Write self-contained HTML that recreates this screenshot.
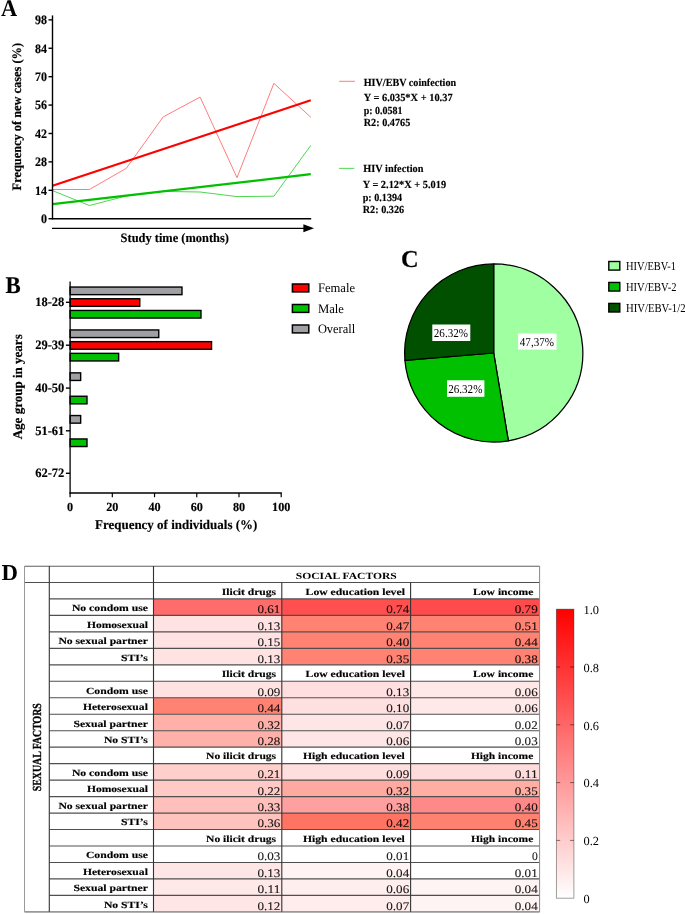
<!DOCTYPE html>
<html lang="en">
<head>
<meta charset="utf-8">
<title>Figure: HIV/EBV coinfection</title>
<style>
  html, body { margin: 0; padding: 0; background: #ffffff; }
  body { width: 685px; height: 914px; overflow: hidden; }
  svg { display: block; font-family: 'Liberation Serif', 'DejaVu Serif', serif; }
  svg text { white-space: pre; text-rendering: geometricPrecision; }
</style>
</head>
<body>
<svg width="685" height="914" viewBox="0 0 685 914">
<defs>
  <linearGradient id="cbar" x1="0" y1="0" x2="0" y2="1">
    <stop offset="0" stop-color="#ff0000"/>
    <stop offset="1" stop-color="#ffffff"/>
  </linearGradient>
  <filter id="soft" x="-2%" y="-2%" width="104%" height="104%"><feGaussianBlur stdDeviation="0.55"/></filter>
</defs>
<rect width="685" height="914" fill="#ffffff"/>
<g id="panelA">
<text x="1.0" y="16.1" font-size="24" font-weight="bold" text-anchor="start" fill="#000" textLength="16.2" lengthAdjust="spacingAndGlyphs">A</text>
<polyline fill="none" stroke="#ff5a5a" stroke-width="0.8" points="52.5,189.5 89.4,189.5 126.3,168.3 163.2,116.9 200.1,97.1 237.0,177.7 273.9,83.3 310.8,117.3"/>
<polyline fill="none" stroke="#22cc22" stroke-width="0.8" points="52.5,190.6 89.4,205.5 126.3,196.0 163.2,191.4 200.1,192.0 237.0,196.6 273.9,196.2 310.8,145.4"/>
<line x1="52.5" y1="185.7" x2="310.8" y2="100.3" stroke="#ff0000" stroke-width="2.2"/>
<line x1="52.5" y1="204.1" x2="310.8" y2="174.2" stroke="#00c000" stroke-width="2.2"/>
<line x1="52.5" y1="15.4" x2="52.5" y2="219.39999999999998" stroke="#000" stroke-width="1.4"/>
<line x1="51.8" y1="218.7" x2="311.2" y2="218.7" stroke="#000" stroke-width="1.4"/>
<line x1="48.5" y1="218.70" x2="52.5" y2="218.70" stroke="#000" stroke-width="1.4"/>
<text x="47" y="223.1" font-size="12.96" font-weight="bold" text-anchor="end" fill="#000" textLength="6.0" lengthAdjust="spacingAndGlyphs" stroke="#000" stroke-width="0.15">0</text>
<line x1="48.5" y1="190.29" x2="52.5" y2="190.29" stroke="#000" stroke-width="1.4"/>
<text x="47" y="194.69" font-size="12.96" font-weight="bold" text-anchor="end" fill="#000" textLength="12.0" lengthAdjust="spacingAndGlyphs" stroke="#000" stroke-width="0.15">14</text>
<line x1="48.5" y1="161.89" x2="52.5" y2="161.89" stroke="#000" stroke-width="1.4"/>
<text x="47" y="166.29" font-size="12.96" font-weight="bold" text-anchor="end" fill="#000" textLength="12.0" lengthAdjust="spacingAndGlyphs" stroke="#000" stroke-width="0.15">28</text>
<line x1="48.5" y1="133.48" x2="52.5" y2="133.48" stroke="#000" stroke-width="1.4"/>
<text x="47" y="137.88" font-size="12.96" font-weight="bold" text-anchor="end" fill="#000" textLength="12.0" lengthAdjust="spacingAndGlyphs" stroke="#000" stroke-width="0.15">42</text>
<line x1="48.5" y1="105.08" x2="52.5" y2="105.08" stroke="#000" stroke-width="1.4"/>
<text x="47" y="109.48" font-size="12.96" font-weight="bold" text-anchor="end" fill="#000" textLength="12.0" lengthAdjust="spacingAndGlyphs" stroke="#000" stroke-width="0.15">56</text>
<line x1="48.5" y1="76.67" x2="52.5" y2="76.67" stroke="#000" stroke-width="1.4"/>
<text x="47" y="81.07" font-size="12.96" font-weight="bold" text-anchor="end" fill="#000" textLength="12.0" lengthAdjust="spacingAndGlyphs" stroke="#000" stroke-width="0.15">70</text>
<line x1="48.5" y1="48.26" x2="52.5" y2="48.26" stroke="#000" stroke-width="1.4"/>
<text x="47" y="52.66" font-size="12.96" font-weight="bold" text-anchor="end" fill="#000" textLength="12.0" lengthAdjust="spacingAndGlyphs" stroke="#000" stroke-width="0.15">84</text>
<line x1="48.5" y1="19.86" x2="52.5" y2="19.86" stroke="#000" stroke-width="1.4"/>
<text x="47" y="24.26" font-size="12.96" font-weight="bold" text-anchor="end" fill="#000" textLength="12.0" lengthAdjust="spacingAndGlyphs" stroke="#000" stroke-width="0.15">98</text>
<line x1="52" y1="228.35" x2="305" y2="228.35" stroke="#000" stroke-width="1.4"/>
<polygon points="303.4,224.2 314,228.2 303.4,232.2" fill="#000"/>
<text x="120.6" y="242" font-size="12.96" font-weight="bold" text-anchor="start" fill="#000" textLength="108.4" lengthAdjust="spacingAndGlyphs" stroke="#000" stroke-width="0.15">Study time (months)</text>
<text transform="translate(21.0 190.4) rotate(-90)" font-size="12.96" font-weight="bold" text-anchor="start" stroke="#000" stroke-width="0.2" textLength="147.5" lengthAdjust="spacingAndGlyphs">Frequency of new cases (%)</text>
<line x1="339.2" y1="81.3" x2="354.9" y2="81.3" stroke="#ff5a5a" stroke-width="0.8"/>
<text x="363.7" y="85.5" font-size="10.8" font-weight="bold" text-anchor="start" fill="#000" textLength="92.4" lengthAdjust="spacingAndGlyphs" stroke="#000" stroke-width="0.15">HIV/EBV coinfection</text>
<text x="363.7" y="101.0" font-size="10.8" font-weight="bold" text-anchor="start" fill="#000" textLength="88.9" lengthAdjust="spacingAndGlyphs" stroke="#000" stroke-width="0.15">Y = 6.035*X + 10.37</text>
<text x="363.7" y="113.7" font-size="10.8" font-weight="bold" text-anchor="start" fill="#000" textLength="38.9" lengthAdjust="spacingAndGlyphs" stroke="#000" stroke-width="0.15">p: 0.0581</text>
<text x="363.7" y="126.0" font-size="10.8" font-weight="bold" text-anchor="start" fill="#000" textLength="46.6" lengthAdjust="spacingAndGlyphs" stroke="#000" stroke-width="0.15">R2: 0.4765</text>
<line x1="339" y1="168.35" x2="354.3" y2="168.35" stroke="#22cc22" stroke-width="0.8"/>
<text x="363.3" y="172.2" font-size="10.8" font-weight="bold" text-anchor="start" fill="#000" textLength="60.1" lengthAdjust="spacingAndGlyphs" stroke="#000" stroke-width="0.15">HIV infection</text>
<text x="362.7" y="187.7" font-size="10.8" font-weight="bold" text-anchor="start" fill="#000" textLength="83.4" lengthAdjust="spacingAndGlyphs" stroke="#000" stroke-width="0.15">Y = 2.12*X + 5.019</text>
<text x="362.7" y="200.7" font-size="10.8" font-weight="bold" text-anchor="start" fill="#000" textLength="39.5" lengthAdjust="spacingAndGlyphs" stroke="#000" stroke-width="0.15">p: 0.1394</text>
<text x="362.7" y="213.0" font-size="10.8" font-weight="bold" text-anchor="start" fill="#000" textLength="41.5" lengthAdjust="spacingAndGlyphs" stroke="#000" stroke-width="0.15">R2: 0.326</text>
</g>
<g id="panelB">
<text x="5.5" y="293.3" font-size="24" font-weight="bold" text-anchor="start" fill="#000" textLength="15.2" lengthAdjust="spacingAndGlyphs" stroke="#000" stroke-width="0.15">B</text>
<rect x="70.1" y="287.05" width="111.88" height="7.6" fill="#a0a0a4" stroke="#000" stroke-width="1.4"/>
<rect x="70.1" y="298.75" width="69.66" height="7.6" fill="#ff0000" stroke="#000" stroke-width="1.4"/>
<rect x="70.1" y="310.45" width="130.88" height="7.6" fill="#00c000" stroke="#000" stroke-width="1.4"/>
<line x1="65.9" y1="302.3" x2="70.1" y2="302.3" stroke="#000" stroke-width="1.4"/>
<text x="64.4" y="306.3" font-size="12.96" font-weight="bold" text-anchor="end" fill="#000" textLength="29.2" lengthAdjust="spacingAndGlyphs" stroke="#000" stroke-width="0.15">18-28</text>
<rect x="70.1" y="329.95" width="88.66" height="7.6" fill="#a0a0a4" stroke="#000" stroke-width="1.4"/>
<rect x="70.1" y="341.65" width="141.44" height="7.6" fill="#ff0000" stroke="#000" stroke-width="1.4"/>
<rect x="70.1" y="353.35" width="48.55" height="7.6" fill="#00c000" stroke="#000" stroke-width="1.4"/>
<line x1="65.9" y1="345.2" x2="70.1" y2="345.2" stroke="#000" stroke-width="1.4"/>
<text x="64.4" y="349.2" font-size="12.96" font-weight="bold" text-anchor="end" fill="#000" textLength="29.2" lengthAdjust="spacingAndGlyphs" stroke="#000" stroke-width="0.15">29-39</text>
<rect x="70.1" y="372.85" width="10.56" height="7.6" fill="#a0a0a4" stroke="#000" stroke-width="1.4"/>
<rect x="70.1" y="396.25" width="16.89" height="7.6" fill="#00c000" stroke="#000" stroke-width="1.4"/>
<line x1="65.9" y1="388.1" x2="70.1" y2="388.1" stroke="#000" stroke-width="1.4"/>
<text x="64.4" y="392.1" font-size="12.96" font-weight="bold" text-anchor="end" fill="#000" textLength="29.2" lengthAdjust="spacingAndGlyphs" stroke="#000" stroke-width="0.15">40-50</text>
<rect x="70.1" y="415.55" width="10.56" height="7.6" fill="#a0a0a4" stroke="#000" stroke-width="1.4"/>
<rect x="70.1" y="438.95" width="16.89" height="7.6" fill="#00c000" stroke="#000" stroke-width="1.4"/>
<line x1="65.9" y1="430.8" x2="70.1" y2="430.8" stroke="#000" stroke-width="1.4"/>
<text x="64.4" y="434.8" font-size="12.96" font-weight="bold" text-anchor="end" fill="#000" textLength="29.2" lengthAdjust="spacingAndGlyphs" stroke="#000" stroke-width="0.15">51-61</text>
<line x1="65.9" y1="473.3" x2="70.1" y2="473.3" stroke="#000" stroke-width="1.4"/>
<text x="64.4" y="477.3" font-size="12.96" font-weight="bold" text-anchor="end" fill="#000" textLength="29.2" lengthAdjust="spacingAndGlyphs" stroke="#000" stroke-width="0.15">62-72</text>
<line x1="70.1" y1="281.6" x2="70.1" y2="493.6" stroke="#000" stroke-width="1.3"/>
<line x1="69.5" y1="493.0" x2="281.80000000000007" y2="493.0" stroke="#000" stroke-width="1.3"/>
<line x1="70.10" y1="493.0" x2="70.10" y2="497.2" stroke="#000" stroke-width="1.2"/>
<text x="70.1" y="510.8" font-size="12.42" font-weight="bold" text-anchor="middle" fill="#000" textLength="6.1" lengthAdjust="spacingAndGlyphs" stroke="#000" stroke-width="0.15">0</text>
<line x1="112.32" y1="493.0" x2="112.32" y2="497.2" stroke="#000" stroke-width="1.2"/>
<text x="112.32" y="510.8" font-size="12.42" font-weight="bold" text-anchor="middle" fill="#000" textLength="12.2" lengthAdjust="spacingAndGlyphs" stroke="#000" stroke-width="0.15">20</text>
<line x1="154.54" y1="493.0" x2="154.54" y2="497.2" stroke="#000" stroke-width="1.2"/>
<text x="154.54" y="510.8" font-size="12.42" font-weight="bold" text-anchor="middle" fill="#000" textLength="12.2" lengthAdjust="spacingAndGlyphs" stroke="#000" stroke-width="0.15">40</text>
<line x1="196.76" y1="493.0" x2="196.76" y2="497.2" stroke="#000" stroke-width="1.2"/>
<text x="196.76" y="510.8" font-size="12.42" font-weight="bold" text-anchor="middle" fill="#000" textLength="12.2" lengthAdjust="spacingAndGlyphs" stroke="#000" stroke-width="0.15">60</text>
<line x1="238.98" y1="493.0" x2="238.98" y2="497.2" stroke="#000" stroke-width="1.2"/>
<text x="238.98" y="510.8" font-size="12.42" font-weight="bold" text-anchor="middle" fill="#000" textLength="12.2" lengthAdjust="spacingAndGlyphs" stroke="#000" stroke-width="0.15">80</text>
<line x1="281.20" y1="493.0" x2="281.20" y2="497.2" stroke="#000" stroke-width="1.2"/>
<text x="281.2" y="510.8" font-size="12.42" font-weight="bold" text-anchor="middle" fill="#000" textLength="18.299999999999997" lengthAdjust="spacingAndGlyphs" stroke="#000" stroke-width="0.15">100</text>
<text x="95.0" y="529.4" font-size="13.28" font-weight="bold" text-anchor="start" fill="#000" textLength="162.3" lengthAdjust="spacingAndGlyphs" stroke="#000" stroke-width="0.15">Frequency of individuals (%)</text>
<text transform="translate(21.6 439.3) rotate(-90)" font-size="13.18" font-weight="bold" text-anchor="start" stroke="#000" stroke-width="0.2" textLength="105" lengthAdjust="spacingAndGlyphs">Age group in years</text>
<rect x="292.4" y="284.00" width="16.4" height="7.9" fill="#ff0000" stroke="#000" stroke-width="1.5"/>
<text x="317.9" y="292.2" font-size="12.96" font-weight="normal" text-anchor="start" fill="#000" textLength="37.2" lengthAdjust="spacingAndGlyphs">Female</text>
<rect x="292.4" y="304.50" width="16.4" height="7.9" fill="#00c000" stroke="#000" stroke-width="1.5"/>
<text x="317.9" y="312.65" font-size="12.96" font-weight="normal" text-anchor="start" fill="#000" textLength="26.1" lengthAdjust="spacingAndGlyphs">Male</text>
<rect x="292.4" y="325.00" width="16.4" height="7.9" fill="#a0a0a4" stroke="#000" stroke-width="1.5"/>
<text x="317.9" y="333.1" font-size="12.96" font-weight="normal" text-anchor="start" fill="#000" textLength="37.3" lengthAdjust="spacingAndGlyphs">Overall</text>
</g>
<g id="panelC">
<text x="401.0" y="267.0" font-size="24.3" font-weight="bold" text-anchor="start" fill="#000" textLength="17.6" lengthAdjust="spacingAndGlyphs" stroke="#000" stroke-width="0.15">C</text>
<path d="M493.7,353.0 L493.70,263.90 A89.1,89.1 0 0 1 508.36,440.89 Z" fill="#a0ffa0" stroke="#000" stroke-width="1.25" stroke-linejoin="round"/>
<path d="M493.7,353.0 L508.36,440.89 A89.1,89.1 0 0 1 404.90,360.33 Z" fill="#00c000" stroke="#000" stroke-width="1.25" stroke-linejoin="round"/>
<path d="M493.7,353.0 L404.90,360.33 A89.1,89.1 0 0 1 493.70,263.90 Z" fill="#005000" stroke="#000" stroke-width="1.25" stroke-linejoin="round"/>
<rect x="518.1" y="333.4" width="38.4" height="16.2" fill="#fff"/>
<text x="536.9" y="345.9" font-size="11.99" font-weight="normal" text-anchor="middle" fill="#000" textLength="34.2" lengthAdjust="spacingAndGlyphs">47,37%</text>
<rect x="432.3" y="324.5" width="38.0" height="16.5" fill="#fff"/>
<text x="450.9" y="337.3" font-size="11.99" font-weight="normal" text-anchor="middle" fill="#000" textLength="34.2" lengthAdjust="spacingAndGlyphs">26.32%</text>
<rect x="447.0" y="380.3" width="37.4" height="16.5" fill="#fff"/>
<text x="465.3" y="393.1" font-size="11.99" font-weight="normal" text-anchor="middle" fill="#000" textLength="34.2" lengthAdjust="spacingAndGlyphs">26.32%</text>
<rect x="608.8" y="261.50" width="11.0" height="8.6" fill="#a0ffa0" stroke="#000" stroke-width="1.4"/>
<text x="626.0" y="269.6" font-size="12.1" font-weight="normal" text-anchor="start" fill="#000" textLength="50.0" lengthAdjust="spacingAndGlyphs">HIV/EBV-1</text>
<rect x="608.8" y="282.45" width="11.0" height="8.6" fill="#00c000" stroke="#000" stroke-width="1.4"/>
<text x="626.0" y="290.7" font-size="12.1" font-weight="normal" text-anchor="start" fill="#000" textLength="50.5" lengthAdjust="spacingAndGlyphs">HIV/EBV-2</text>
<rect x="608.8" y="303.40" width="11.0" height="8.6" fill="#005000" stroke="#000" stroke-width="1.4"/>
<text x="626.0" y="311.8" font-size="12.1" font-weight="normal" text-anchor="start" fill="#000" textLength="59.5" lengthAdjust="spacingAndGlyphs">HIV/EBV-1/2</text>
</g>
<g id="panelD">
<text x="1.5" y="580.4" font-size="22.8" font-weight="bold" text-anchor="start" fill="#000">D</text>
<g filter="url(#soft)">
<rect x="153.5" y="598.94" width="128.30" height="16.47" fill="#ff6c6c"/>
<rect x="281.8" y="598.94" width="128.80" height="16.47" fill="#ff5050"/>
<rect x="410.6" y="598.94" width="129.00" height="16.47" fill="#ff4c4c"/>
<rect x="153.5" y="615.41" width="128.30" height="16.47" fill="#ffe3e3"/>
<rect x="281.8" y="615.41" width="128.80" height="16.47" fill="#ff8272"/>
<rect x="410.6" y="615.41" width="129.00" height="16.47" fill="#ff8272"/>
<rect x="153.5" y="631.88" width="128.30" height="16.47" fill="#ffe3e3"/>
<rect x="281.8" y="631.88" width="128.80" height="16.47" fill="#ff8272"/>
<rect x="410.6" y="631.88" width="129.00" height="16.47" fill="#ff8272"/>
<rect x="153.5" y="648.35" width="128.30" height="16.47" fill="#ffe3e3"/>
<rect x="281.8" y="648.35" width="128.80" height="16.47" fill="#ff8272"/>
<rect x="410.6" y="648.35" width="129.00" height="16.47" fill="#ff8272"/>
<rect x="153.5" y="681.29" width="128.30" height="16.47" fill="#ffe3e3"/>
<rect x="281.8" y="681.29" width="128.80" height="16.47" fill="#ffdfdf"/>
<rect x="410.6" y="681.29" width="129.00" height="16.47" fill="#ffe8e8"/>
<rect x="153.5" y="697.76" width="128.30" height="16.47" fill="#ff8272"/>
<rect x="281.8" y="697.76" width="128.80" height="16.47" fill="#ffe0e0"/>
<rect x="410.6" y="697.76" width="129.00" height="16.47" fill="#ffe8e8"/>
<rect x="153.5" y="714.23" width="128.30" height="16.47" fill="#ffb1a9"/>
<rect x="281.8" y="714.23" width="128.80" height="16.47" fill="#ffe6e6"/>
<rect x="410.6" y="714.23" width="129.00" height="16.47" fill="#ffffff"/>
<rect x="153.5" y="730.70" width="128.30" height="16.47" fill="#ffb1a9"/>
<rect x="281.8" y="730.70" width="128.80" height="16.47" fill="#ffe6e6"/>
<rect x="410.6" y="730.70" width="129.00" height="16.47" fill="#ffffff"/>
<rect x="153.5" y="763.64" width="128.30" height="16.47" fill="#ffcfcb"/>
<rect x="281.8" y="763.64" width="128.80" height="16.47" fill="#ffdede"/>
<rect x="410.6" y="763.64" width="129.00" height="16.47" fill="#ffdcdc"/>
<rect x="153.5" y="780.11" width="128.30" height="16.47" fill="#ffc9c5"/>
<rect x="281.8" y="780.11" width="128.80" height="16.47" fill="#ffaaa0"/>
<rect x="410.6" y="780.11" width="129.00" height="16.47" fill="#ffaea4"/>
<rect x="153.5" y="796.58" width="128.30" height="16.47" fill="#ffbfba"/>
<rect x="281.8" y="796.58" width="128.80" height="16.47" fill="#ffa0a0"/>
<rect x="410.6" y="796.58" width="129.00" height="16.47" fill="#ff8888"/>
<rect x="153.5" y="813.05" width="128.30" height="16.47" fill="#ffc3be"/>
<rect x="281.8" y="813.05" width="128.80" height="16.47" fill="#ff7363"/>
<rect x="410.6" y="813.05" width="129.00" height="16.47" fill="#ff8270"/>
<rect x="153.5" y="845.99" width="128.30" height="16.47" fill="#ffffff"/>
<rect x="281.8" y="845.99" width="128.80" height="16.47" fill="#ffffff"/>
<rect x="410.6" y="845.99" width="129.00" height="16.47" fill="#ffffff"/>
<rect x="153.5" y="862.46" width="128.30" height="16.47" fill="#ffe6e6"/>
<rect x="281.8" y="862.46" width="128.80" height="16.47" fill="#fff3f3"/>
<rect x="410.6" y="862.46" width="129.00" height="16.47" fill="#ffffff"/>
<rect x="153.5" y="878.93" width="128.30" height="16.47" fill="#ffe8e8"/>
<rect x="281.8" y="878.93" width="128.80" height="16.47" fill="#ffeeee"/>
<rect x="410.6" y="878.93" width="129.00" height="16.47" fill="#fff4f4"/>
<rect x="153.5" y="895.40" width="128.30" height="16.47" fill="#ffe6e6"/>
<rect x="281.8" y="895.40" width="128.80" height="16.47" fill="#ffecec"/>
<rect x="410.6" y="895.40" width="129.00" height="16.47" fill="#fff4f4"/>
<line x1="24.5" y1="566.3" x2="539.6" y2="566.3" stroke="#606060" stroke-width="1.1"/>
<line x1="24.5" y1="582.47" x2="539.6" y2="582.47" stroke="#505050" stroke-width="1.15"/>
<line x1="49.3" y1="598.94" x2="539.6" y2="598.94" stroke="#505050" stroke-width="1.15"/>
<line x1="49.3" y1="615.41" x2="539.6" y2="615.41" stroke="#505050" stroke-width="1.15"/>
<line x1="49.3" y1="631.88" x2="539.6" y2="631.88" stroke="#505050" stroke-width="1.15"/>
<line x1="49.3" y1="648.35" x2="539.6" y2="648.35" stroke="#505050" stroke-width="1.15"/>
<line x1="49.3" y1="664.82" x2="539.6" y2="664.82" stroke="#505050" stroke-width="1.15"/>
<line x1="49.3" y1="681.29" x2="539.6" y2="681.29" stroke="#505050" stroke-width="1.15"/>
<line x1="49.3" y1="697.76" x2="539.6" y2="697.76" stroke="#505050" stroke-width="1.15"/>
<line x1="49.3" y1="714.23" x2="539.6" y2="714.23" stroke="#505050" stroke-width="1.15"/>
<line x1="49.3" y1="730.70" x2="539.6" y2="730.70" stroke="#505050" stroke-width="1.15"/>
<line x1="49.3" y1="747.17" x2="539.6" y2="747.17" stroke="#505050" stroke-width="1.15"/>
<line x1="49.3" y1="763.64" x2="539.6" y2="763.64" stroke="#505050" stroke-width="1.15"/>
<line x1="49.3" y1="780.11" x2="539.6" y2="780.11" stroke="#505050" stroke-width="1.15"/>
<line x1="49.3" y1="796.58" x2="539.6" y2="796.58" stroke="#505050" stroke-width="1.15"/>
<line x1="49.3" y1="813.05" x2="539.6" y2="813.05" stroke="#505050" stroke-width="1.15"/>
<line x1="49.3" y1="829.52" x2="539.6" y2="829.52" stroke="#505050" stroke-width="1.15"/>
<line x1="49.3" y1="845.99" x2="539.6" y2="845.99" stroke="#505050" stroke-width="1.15"/>
<line x1="49.3" y1="862.46" x2="539.6" y2="862.46" stroke="#505050" stroke-width="1.15"/>
<line x1="49.3" y1="878.93" x2="539.6" y2="878.93" stroke="#505050" stroke-width="1.15"/>
<line x1="49.3" y1="895.40" x2="539.6" y2="895.40" stroke="#505050" stroke-width="1.15"/>
<line x1="24.5" y1="911.87" x2="539.6" y2="911.87" stroke="#999" stroke-width="1.6"/>
<line x1="24.5" y1="566.0" x2="24.5" y2="911.87" stroke="#999" stroke-width="1"/>
<line x1="49.3" y1="566.0" x2="49.3" y2="911.87" stroke="#333333" stroke-width="1.1"/>
<line x1="153.5" y1="566.0" x2="153.5" y2="911.87" stroke="#333333" stroke-width="1.1"/>
<line x1="281.8" y1="582.47" x2="281.8" y2="911.87" stroke="#333333" stroke-width="1.1"/>
<line x1="410.6" y1="582.47" x2="410.6" y2="911.87" stroke="#333333" stroke-width="1.1"/>
<line x1="539.6" y1="566.0" x2="539.6" y2="911.87" stroke="#888" stroke-width="1"/>
<text x="346.3" y="578.5" font-size="9.5" font-weight="bold" text-anchor="middle" fill="#000" textLength="101" lengthAdjust="spacingAndGlyphs">SOCIAL FACTORS</text>
<text x="276.1" y="594.74" font-size="9.5" font-weight="bold" text-anchor="end" fill="#000" textLength="54.4" lengthAdjust="spacingAndGlyphs" stroke="#000" stroke-width="0.15">Ilicit drugs</text>
<text x="404.9" y="594.74" font-size="9.5" font-weight="bold" text-anchor="end" fill="#000" textLength="99.3" lengthAdjust="spacingAndGlyphs" stroke="#000" stroke-width="0.15">Low education level</text>
<text x="533.3" y="594.74" font-size="9.5" font-weight="bold" text-anchor="end" fill="#000" textLength="60.2" lengthAdjust="spacingAndGlyphs" stroke="#000" stroke-width="0.15">Low income</text>
<text x="147.9" y="611.21" font-size="9.5" font-weight="bold" text-anchor="end" fill="#000" textLength="76.0" lengthAdjust="spacingAndGlyphs" stroke="#000" stroke-width="0.15">No condom use</text>
<text x="280.4" y="613.36" font-size="11.6" font-weight="normal" text-anchor="end" fill="#000" textLength="22.9" lengthAdjust="spacingAndGlyphs" stroke="#000" stroke-width="0.12" opacity="0.9">0.61</text>
<text x="409.2" y="613.36" font-size="11.6" font-weight="normal" text-anchor="end" fill="#000" textLength="22.9" lengthAdjust="spacingAndGlyphs" stroke="#000" stroke-width="0.12" opacity="0.9">0.74</text>
<text x="537.7" y="613.36" font-size="11.6" font-weight="normal" text-anchor="end" fill="#000" textLength="22.9" lengthAdjust="spacingAndGlyphs" stroke="#000" stroke-width="0.12" opacity="0.9">0.79</text>
<text x="147.9" y="627.68" font-size="9.5" font-weight="bold" text-anchor="end" fill="#000" textLength="61.0" lengthAdjust="spacingAndGlyphs" stroke="#000" stroke-width="0.15">Homosexual</text>
<text x="280.4" y="629.83" font-size="11.6" font-weight="normal" text-anchor="end" fill="#000" textLength="22.9" lengthAdjust="spacingAndGlyphs" stroke="#000" stroke-width="0.12" opacity="0.9">0.13</text>
<text x="409.2" y="629.83" font-size="11.6" font-weight="normal" text-anchor="end" fill="#000" textLength="22.9" lengthAdjust="spacingAndGlyphs" stroke="#000" stroke-width="0.12" opacity="0.9">0.47</text>
<text x="537.7" y="629.83" font-size="11.6" font-weight="normal" text-anchor="end" fill="#000" textLength="22.9" lengthAdjust="spacingAndGlyphs" stroke="#000" stroke-width="0.12" opacity="0.9">0.51</text>
<text x="147.9" y="644.15" font-size="9.5" font-weight="bold" text-anchor="end" fill="#000" textLength="89.5" lengthAdjust="spacingAndGlyphs" stroke="#000" stroke-width="0.15">No sexual partner</text>
<text x="280.4" y="646.3" font-size="11.6" font-weight="normal" text-anchor="end" fill="#000" textLength="22.9" lengthAdjust="spacingAndGlyphs" stroke="#000" stroke-width="0.12" opacity="0.9">0.15</text>
<text x="409.2" y="646.3" font-size="11.6" font-weight="normal" text-anchor="end" fill="#000" textLength="22.9" lengthAdjust="spacingAndGlyphs" stroke="#000" stroke-width="0.12" opacity="0.9">0.40</text>
<text x="537.7" y="646.3" font-size="11.6" font-weight="normal" text-anchor="end" fill="#000" textLength="22.9" lengthAdjust="spacingAndGlyphs" stroke="#000" stroke-width="0.12" opacity="0.9">0.44</text>
<text x="147.9" y="660.62" font-size="9.5" font-weight="bold" text-anchor="end" fill="#000" textLength="27.0" lengthAdjust="spacingAndGlyphs" stroke="#000" stroke-width="0.15">STI’s</text>
<text x="280.4" y="662.77" font-size="11.6" font-weight="normal" text-anchor="end" fill="#000" textLength="22.9" lengthAdjust="spacingAndGlyphs" stroke="#000" stroke-width="0.12" opacity="0.9">0.13</text>
<text x="409.2" y="662.77" font-size="11.6" font-weight="normal" text-anchor="end" fill="#000" textLength="22.9" lengthAdjust="spacingAndGlyphs" stroke="#000" stroke-width="0.12" opacity="0.9">0.35</text>
<text x="537.7" y="662.77" font-size="11.6" font-weight="normal" text-anchor="end" fill="#000" textLength="22.9" lengthAdjust="spacingAndGlyphs" stroke="#000" stroke-width="0.12" opacity="0.9">0.38</text>
<text x="276.1" y="677.09" font-size="9.5" font-weight="bold" text-anchor="end" fill="#000" textLength="54.4" lengthAdjust="spacingAndGlyphs" stroke="#000" stroke-width="0.15">Ilicit drugs</text>
<text x="404.9" y="677.09" font-size="9.5" font-weight="bold" text-anchor="end" fill="#000" textLength="99.3" lengthAdjust="spacingAndGlyphs" stroke="#000" stroke-width="0.15">Low education level</text>
<text x="533.3" y="677.09" font-size="9.5" font-weight="bold" text-anchor="end" fill="#000" textLength="60.2" lengthAdjust="spacingAndGlyphs" stroke="#000" stroke-width="0.15">Low income</text>
<text x="147.9" y="693.56" font-size="9.5" font-weight="bold" text-anchor="end" fill="#000" textLength="62.0" lengthAdjust="spacingAndGlyphs" stroke="#000" stroke-width="0.15">Condom use</text>
<text x="280.4" y="695.71" font-size="11.6" font-weight="normal" text-anchor="end" fill="#000" textLength="22.9" lengthAdjust="spacingAndGlyphs" stroke="#000" stroke-width="0.12" opacity="0.9">0.09</text>
<text x="409.2" y="695.71" font-size="11.6" font-weight="normal" text-anchor="end" fill="#000" textLength="22.9" lengthAdjust="spacingAndGlyphs" stroke="#000" stroke-width="0.12" opacity="0.9">0.13</text>
<text x="537.7" y="695.71" font-size="11.6" font-weight="normal" text-anchor="end" fill="#000" textLength="22.9" lengthAdjust="spacingAndGlyphs" stroke="#000" stroke-width="0.12" opacity="0.9">0.06</text>
<text x="147.9" y="710.03" font-size="9.5" font-weight="bold" text-anchor="end" fill="#000" textLength="65.0" lengthAdjust="spacingAndGlyphs" stroke="#000" stroke-width="0.15">Heterosexual</text>
<text x="280.4" y="712.18" font-size="11.6" font-weight="normal" text-anchor="end" fill="#000" textLength="22.9" lengthAdjust="spacingAndGlyphs" stroke="#000" stroke-width="0.12" opacity="0.9">0.44</text>
<text x="409.2" y="712.18" font-size="11.6" font-weight="normal" text-anchor="end" fill="#000" textLength="22.9" lengthAdjust="spacingAndGlyphs" stroke="#000" stroke-width="0.12" opacity="0.9">0.10</text>
<text x="537.7" y="712.18" font-size="11.6" font-weight="normal" text-anchor="end" fill="#000" textLength="22.9" lengthAdjust="spacingAndGlyphs" stroke="#000" stroke-width="0.12" opacity="0.9">0.06</text>
<text x="147.9" y="726.5" font-size="9.5" font-weight="bold" text-anchor="end" fill="#000" textLength="74.5" lengthAdjust="spacingAndGlyphs" stroke="#000" stroke-width="0.15">Sexual partner</text>
<text x="280.4" y="728.65" font-size="11.6" font-weight="normal" text-anchor="end" fill="#000" textLength="22.9" lengthAdjust="spacingAndGlyphs" stroke="#000" stroke-width="0.12" opacity="0.9">0.32</text>
<text x="409.2" y="728.65" font-size="11.6" font-weight="normal" text-anchor="end" fill="#000" textLength="22.9" lengthAdjust="spacingAndGlyphs" stroke="#000" stroke-width="0.12" opacity="0.9">0.07</text>
<text x="537.7" y="728.65" font-size="11.6" font-weight="normal" text-anchor="end" fill="#000" textLength="22.9" lengthAdjust="spacingAndGlyphs" stroke="#000" stroke-width="0.12" opacity="0.9">0.02</text>
<text x="147.9" y="742.97" font-size="9.5" font-weight="bold" text-anchor="end" fill="#000" textLength="44.0" lengthAdjust="spacingAndGlyphs" stroke="#000" stroke-width="0.15">No STI’s</text>
<text x="280.4" y="745.12" font-size="11.6" font-weight="normal" text-anchor="end" fill="#000" textLength="22.9" lengthAdjust="spacingAndGlyphs" stroke="#000" stroke-width="0.12" opacity="0.9">0.28</text>
<text x="409.2" y="745.12" font-size="11.6" font-weight="normal" text-anchor="end" fill="#000" textLength="22.9" lengthAdjust="spacingAndGlyphs" stroke="#000" stroke-width="0.12" opacity="0.9">0.06</text>
<text x="537.7" y="745.12" font-size="11.6" font-weight="normal" text-anchor="end" fill="#000" textLength="22.9" lengthAdjust="spacingAndGlyphs" stroke="#000" stroke-width="0.12" opacity="0.9">0.03</text>
<text x="276.1" y="759.44" font-size="9.5" font-weight="bold" text-anchor="end" fill="#000" textLength="70.0" lengthAdjust="spacingAndGlyphs" stroke="#000" stroke-width="0.15">No ilicit drugs</text>
<text x="404.9" y="759.44" font-size="9.5" font-weight="bold" text-anchor="end" fill="#000" textLength="102.0" lengthAdjust="spacingAndGlyphs" stroke="#000" stroke-width="0.15">High education level</text>
<text x="533.3" y="759.44" font-size="9.5" font-weight="bold" text-anchor="end" fill="#000" textLength="62.4" lengthAdjust="spacingAndGlyphs" stroke="#000" stroke-width="0.15">High income</text>
<text x="147.9" y="775.91" font-size="9.5" font-weight="bold" text-anchor="end" fill="#000" textLength="76.0" lengthAdjust="spacingAndGlyphs" stroke="#000" stroke-width="0.15">No condom use</text>
<text x="280.4" y="778.06" font-size="11.6" font-weight="normal" text-anchor="end" fill="#000" textLength="22.9" lengthAdjust="spacingAndGlyphs" stroke="#000" stroke-width="0.12" opacity="0.9">0.21</text>
<text x="409.2" y="778.06" font-size="11.6" font-weight="normal" text-anchor="end" fill="#000" textLength="22.9" lengthAdjust="spacingAndGlyphs" stroke="#000" stroke-width="0.12" opacity="0.9">0.09</text>
<text x="537.7" y="778.06" font-size="11.6" font-weight="normal" text-anchor="end" fill="#000" textLength="22.9" lengthAdjust="spacingAndGlyphs" stroke="#000" stroke-width="0.12" opacity="0.9">0.11</text>
<text x="147.9" y="792.38" font-size="9.5" font-weight="bold" text-anchor="end" fill="#000" textLength="61.0" lengthAdjust="spacingAndGlyphs" stroke="#000" stroke-width="0.15">Homosexual</text>
<text x="280.4" y="794.53" font-size="11.6" font-weight="normal" text-anchor="end" fill="#000" textLength="22.9" lengthAdjust="spacingAndGlyphs" stroke="#000" stroke-width="0.12" opacity="0.9">0.22</text>
<text x="409.2" y="794.53" font-size="11.6" font-weight="normal" text-anchor="end" fill="#000" textLength="22.9" lengthAdjust="spacingAndGlyphs" stroke="#000" stroke-width="0.12" opacity="0.9">0.32</text>
<text x="537.7" y="794.53" font-size="11.6" font-weight="normal" text-anchor="end" fill="#000" textLength="22.9" lengthAdjust="spacingAndGlyphs" stroke="#000" stroke-width="0.12" opacity="0.9">0.35</text>
<text x="147.9" y="808.85" font-size="9.5" font-weight="bold" text-anchor="end" fill="#000" textLength="89.5" lengthAdjust="spacingAndGlyphs" stroke="#000" stroke-width="0.15">No sexual partner</text>
<text x="280.4" y="811.0" font-size="11.6" font-weight="normal" text-anchor="end" fill="#000" textLength="22.9" lengthAdjust="spacingAndGlyphs" stroke="#000" stroke-width="0.12" opacity="0.9">0.33</text>
<text x="409.2" y="811.0" font-size="11.6" font-weight="normal" text-anchor="end" fill="#000" textLength="22.9" lengthAdjust="spacingAndGlyphs" stroke="#000" stroke-width="0.12" opacity="0.9">0.38</text>
<text x="537.7" y="811.0" font-size="11.6" font-weight="normal" text-anchor="end" fill="#000" textLength="22.9" lengthAdjust="spacingAndGlyphs" stroke="#000" stroke-width="0.12" opacity="0.9">0.40</text>
<text x="147.9" y="825.32" font-size="9.5" font-weight="bold" text-anchor="end" fill="#000" textLength="27.0" lengthAdjust="spacingAndGlyphs" stroke="#000" stroke-width="0.15">STI’s</text>
<text x="280.4" y="827.47" font-size="11.6" font-weight="normal" text-anchor="end" fill="#000" textLength="22.9" lengthAdjust="spacingAndGlyphs" stroke="#000" stroke-width="0.12" opacity="0.9">0.36</text>
<text x="409.2" y="827.47" font-size="11.6" font-weight="normal" text-anchor="end" fill="#000" textLength="22.9" lengthAdjust="spacingAndGlyphs" stroke="#000" stroke-width="0.12" opacity="0.9">0.42</text>
<text x="537.7" y="827.47" font-size="11.6" font-weight="normal" text-anchor="end" fill="#000" textLength="22.9" lengthAdjust="spacingAndGlyphs" stroke="#000" stroke-width="0.12" opacity="0.9">0.45</text>
<text x="276.1" y="841.79" font-size="9.5" font-weight="bold" text-anchor="end" fill="#000" textLength="70.0" lengthAdjust="spacingAndGlyphs" stroke="#000" stroke-width="0.15">No ilicit drugs</text>
<text x="404.9" y="841.79" font-size="9.5" font-weight="bold" text-anchor="end" fill="#000" textLength="102.0" lengthAdjust="spacingAndGlyphs" stroke="#000" stroke-width="0.15">High education level</text>
<text x="533.3" y="841.79" font-size="9.5" font-weight="bold" text-anchor="end" fill="#000" textLength="62.4" lengthAdjust="spacingAndGlyphs" stroke="#000" stroke-width="0.15">High income</text>
<text x="147.9" y="858.26" font-size="9.5" font-weight="bold" text-anchor="end" fill="#000" textLength="62.0" lengthAdjust="spacingAndGlyphs" stroke="#000" stroke-width="0.15">Condom use</text>
<text x="280.4" y="860.41" font-size="11.6" font-weight="normal" text-anchor="end" fill="#000" textLength="22.9" lengthAdjust="spacingAndGlyphs" stroke="#000" stroke-width="0.12" opacity="0.9">0.03</text>
<text x="409.2" y="860.41" font-size="11.6" font-weight="normal" text-anchor="end" fill="#000" textLength="22.9" lengthAdjust="spacingAndGlyphs" stroke="#000" stroke-width="0.12" opacity="0.9">0.01</text>
<text x="537.7" y="860.41" font-size="11.6" font-weight="normal" text-anchor="end" fill="#000" textLength="5.8" lengthAdjust="spacingAndGlyphs" stroke="#000" stroke-width="0.12" opacity="0.9">0</text>
<text x="147.9" y="874.73" font-size="9.5" font-weight="bold" text-anchor="end" fill="#000" textLength="65.0" lengthAdjust="spacingAndGlyphs" stroke="#000" stroke-width="0.15">Heterosexual</text>
<text x="280.4" y="876.88" font-size="11.6" font-weight="normal" text-anchor="end" fill="#000" textLength="22.9" lengthAdjust="spacingAndGlyphs" stroke="#000" stroke-width="0.12" opacity="0.9">0.13</text>
<text x="409.2" y="876.88" font-size="11.6" font-weight="normal" text-anchor="end" fill="#000" textLength="22.9" lengthAdjust="spacingAndGlyphs" stroke="#000" stroke-width="0.12" opacity="0.9">0.04</text>
<text x="537.7" y="876.88" font-size="11.6" font-weight="normal" text-anchor="end" fill="#000" textLength="22.9" lengthAdjust="spacingAndGlyphs" stroke="#000" stroke-width="0.12" opacity="0.9">0.01</text>
<text x="147.9" y="891.2" font-size="9.5" font-weight="bold" text-anchor="end" fill="#000" textLength="74.5" lengthAdjust="spacingAndGlyphs" stroke="#000" stroke-width="0.15">Sexual partner</text>
<text x="280.4" y="893.35" font-size="11.6" font-weight="normal" text-anchor="end" fill="#000" textLength="22.9" lengthAdjust="spacingAndGlyphs" stroke="#000" stroke-width="0.12" opacity="0.9">0.11</text>
<text x="409.2" y="893.35" font-size="11.6" font-weight="normal" text-anchor="end" fill="#000" textLength="22.9" lengthAdjust="spacingAndGlyphs" stroke="#000" stroke-width="0.12" opacity="0.9">0.06</text>
<text x="537.7" y="893.35" font-size="11.6" font-weight="normal" text-anchor="end" fill="#000" textLength="22.9" lengthAdjust="spacingAndGlyphs" stroke="#000" stroke-width="0.12" opacity="0.9">0.04</text>
<text x="147.9" y="907.67" font-size="9.5" font-weight="bold" text-anchor="end" fill="#000" textLength="44.0" lengthAdjust="spacingAndGlyphs" stroke="#000" stroke-width="0.15">No STI’s</text>
<text x="280.4" y="909.82" font-size="11.6" font-weight="normal" text-anchor="end" fill="#000" textLength="22.9" lengthAdjust="spacingAndGlyphs" stroke="#000" stroke-width="0.12" opacity="0.9">0.12</text>
<text x="409.2" y="909.82" font-size="11.6" font-weight="normal" text-anchor="end" fill="#000" textLength="22.9" lengthAdjust="spacingAndGlyphs" stroke="#000" stroke-width="0.12" opacity="0.9">0.07</text>
<text x="537.7" y="909.82" font-size="11.6" font-weight="normal" text-anchor="end" fill="#000" textLength="22.9" lengthAdjust="spacingAndGlyphs" stroke="#000" stroke-width="0.12" opacity="0.9">0.04</text>
<text transform="translate(41.0 791.2) rotate(-90)" font-size="12.3" font-weight="bold" text-anchor="start" stroke="#000" stroke-width="0.3" textLength="88" lengthAdjust="spacingAndGlyphs">SEXUAL FACTORS</text>
</g>
<rect x="556.4" y="609.2" width="17.5" height="289" fill="url(#cbar)" stroke="#000" stroke-opacity="0.42" stroke-width="0.9"/>
<text x="583.5" y="613.9" font-size="12.3" font-weight="normal" text-anchor="start" fill="#000" textLength="15.5" lengthAdjust="spacingAndGlyphs">1.0</text>
<line x1="556.4" y1="667.0" x2="560.2" y2="667.0" stroke="#000" stroke-opacity="0.55" stroke-width="0.9"/>
<line x1="570.1" y1="667.0" x2="573.9" y2="667.0" stroke="#000" stroke-opacity="0.55" stroke-width="0.9"/>
<text x="583.5" y="671.7" font-size="12.3" font-weight="normal" text-anchor="start" fill="#000" textLength="15.5" lengthAdjust="spacingAndGlyphs">0.8</text>
<line x1="556.4" y1="724.8" x2="560.2" y2="724.8" stroke="#000" stroke-opacity="0.55" stroke-width="0.9"/>
<line x1="570.1" y1="724.8" x2="573.9" y2="724.8" stroke="#000" stroke-opacity="0.55" stroke-width="0.9"/>
<text x="583.5" y="729.5" font-size="12.3" font-weight="normal" text-anchor="start" fill="#000" textLength="15.5" lengthAdjust="spacingAndGlyphs">0.6</text>
<line x1="556.4" y1="782.6" x2="560.2" y2="782.6" stroke="#000" stroke-opacity="0.55" stroke-width="0.9"/>
<line x1="570.1" y1="782.6" x2="573.9" y2="782.6" stroke="#000" stroke-opacity="0.55" stroke-width="0.9"/>
<text x="583.5" y="787.3" font-size="12.3" font-weight="normal" text-anchor="start" fill="#000" textLength="15.5" lengthAdjust="spacingAndGlyphs">0.4</text>
<line x1="556.4" y1="840.4" x2="560.2" y2="840.4" stroke="#000" stroke-opacity="0.55" stroke-width="0.9"/>
<line x1="570.1" y1="840.4" x2="573.9" y2="840.4" stroke="#000" stroke-opacity="0.55" stroke-width="0.9"/>
<text x="583.5" y="845.1" font-size="12.3" font-weight="normal" text-anchor="start" fill="#000" textLength="15.5" lengthAdjust="spacingAndGlyphs">0.2</text>
<text x="583.5" y="902.9" font-size="12.3" font-weight="normal" text-anchor="start" fill="#000">0</text>
</g>
</svg>
</body>
</html>
